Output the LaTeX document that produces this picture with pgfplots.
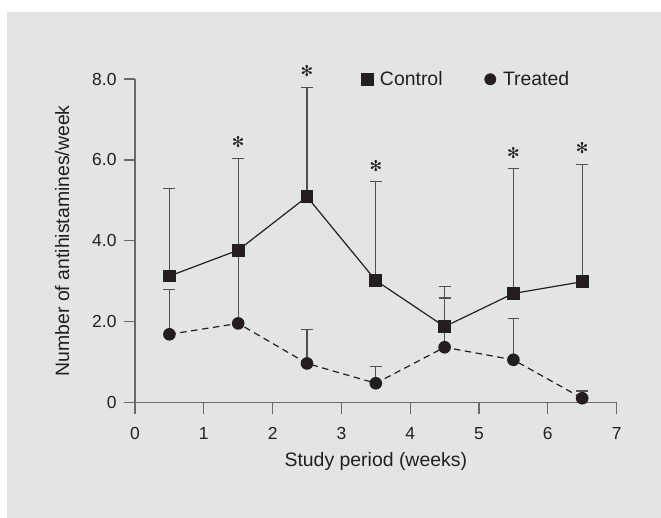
\documentclass[border=0pt]{standalone}
\usepackage{fontspec}
\setmainfont{Liberation Sans}
\newfontfamily\dejavu{DejaVu Sans}
\usepackage{pgfplots}
\pgfplotsset{compat=1.18}
\definecolor{bg}{RGB}{227,228,230}
\definecolor{axgray}{RGB}{105,105,108}
\definecolor{ink}{RGB}{35,31,32}
\definecolor{errgray}{RGB}{80,80,83}
\begin{document}
\begin{tikzpicture}
\useasboundingbox (-135bp,-115.3bp) rectangle (526bp,402.7bp);
\fill[white] (-135bp,-115.3bp) rectangle (526bp,402.7bp);
\fill[bg] (-128bp,-115.3bp) rectangle (526bp,390.7bp);
\begin{axis}[
  at={(0,0)}, anchor=south west,
  x=68.8bp, y=40.46bp,
  xmin=0, xmax=7, ymin=0, ymax=8,
  clip=false,
  axis lines=left,
  axis line style={-, draw=axgray, line width=1.2bp},
  tick style={draw=axgray, line width=1.2bp},
  tick align=outside, major tick length=11bp,
  xtick={0,1,2,3,4,5,6,7},
  ytick={0,2,4,6,8}, yticklabels={0,2.0,4.0,6.0,8.0},
  /pgf/number format/assume math mode=true,
  tick label style={font=\fontsize{17.5}{20}\selectfont, text=ink},
  xticklabel style={yshift=-10bp},
  yticklabel style={xshift=-4bp},
  every axis x label/.style={at={(axis description cs:0.5,-0.1977)}, anchor=base},
  every axis y label/.style={at={(axis description cs:-0.137,0.5)}, anchor=base, rotate=90},
  label style={font=\fontsize{19.5}{22}\selectfont, text=ink},
  xlabel={Study period (weeks)},
  ylabel={Number of antihistamines/week},
  legend columns=2,
  legend style={at={(axis description cs:0.4703,0.9991)}, anchor=west, draw=none, fill=none,
    inner sep=0pt, outer sep=0pt, font=\fontsize{19.5}{22}\selectfont, text=ink,
    /tikz/every even column/.append style={column sep=40bp}},
  legend image code/.code={\path (0bp,0bp) (16bp,0bp); \draw[mark repeat=2,mark phase=2,#1] plot coordinates {(0bp,0bp)(5.5bp,0bp)(11bp,0bp)};},
]
% Treated
\addplot[forget plot, ink, line width=1.2bp, dash pattern=on 6.5bp off 4.5bp,
  mark=*, mark size=5.7bp, mark options={solid, fill=ink, draw=ink},
  error bars/.cd, y dir=plus, y explicit,
  error bar style={errgray, line width=1.2bp, solid},
  error mark options={rotate=90, errgray, line width=1.2bp, mark size=5.9bp, solid}]
  coordinates {
  (0.5,1.69) +- (0,1.11)
  (1.5,1.96) +- (0,1.79)
  (2.5,0.97) +- (0,0.83)
  (3.5,0.48) +- (0,0.41)
  (4.5,1.37) +- (0,1.22)
  (5.5,1.06) +- (0,1.03)
  (6.5,0.11) +- (0,0.18)
  };
% Control
\addplot[forget plot, ink, line width=1.2bp,
  mark=square*, mark size=5.8bp, mark options={fill=ink, draw=ink},
  error bars/.cd, y dir=plus, y explicit,
  error bar style={errgray, line width=1.2bp},
  error mark options={rotate=90, errgray, line width=1.2bp, mark size=5.9bp}]
  coordinates {
  (0.5,3.13) +- (0,2.17)
  (1.5,3.77) +- (0,2.27)
  (2.5,5.09) +- (0,2.71)
  (3.5,3.02) +- (0,2.44)
  (4.5,1.88) +- (0,0.99)
  (5.5,2.70) +- (0,3.08)
  (6.5,2.99) +- (0,2.90)
  };
% significance asterisks
\addplot[forget plot, only marks, mark=none, nodes near coords={\dejavu ✻},
  nodes near coords style={anchor=center, yshift=16bp, font=\fontsize{15}{15}\selectfont, text=ink}]
  coordinates {(1.5,6.04) (2.5,7.80) (3.5,5.46) (5.5,5.78) (6.5,5.89)};
\addlegendimage{only marks, mark=square*, mark size=5.8bp, ink}
\addlegendentry{Control}
\addlegendimage{only marks, mark=*, mark size=5.7bp, ink}
\addlegendentry{Treated}
\end{axis}
\end{tikzpicture}
\end{document}
